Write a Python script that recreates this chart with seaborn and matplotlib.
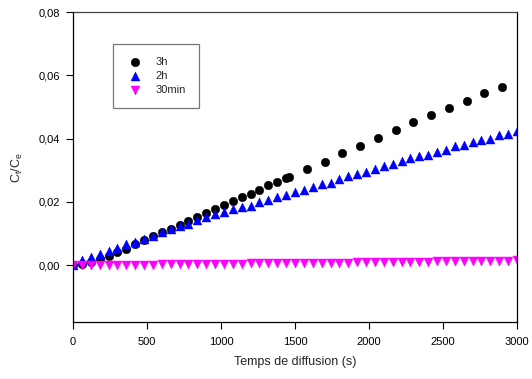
import numpy as np
import pandas as pd
import matplotlib
matplotlib.use("Agg")
import matplotlib.pyplot as plt
import seaborn as sns
from matplotlib.ticker import FuncFormatter

# 数据
t_3h = [0, 60, 120, 180, 240, 300, 360, 420, 480, 540, 600, 660, 720, 780, 840,
        900, 960, 1020, 1080, 1140, 1200, 1260, 1320, 1380, 1440, 1460,
        1580, 1700, 1820, 1940, 2060, 2180, 2300, 2420, 2540, 2660, 2780, 2900]
c_3h = [0.0, 0.0002, 0.0010, 0.0019, 0.0029, 0.0041, 0.0050, 0.0066, 0.0080, 0.0092,
        0.0104, 0.0114, 0.0126, 0.0139, 0.0153, 0.0166, 0.0177, 0.0190, 0.0201, 0.0215,
        0.0225, 0.0238, 0.0252, 0.0262, 0.0275, 0.0278,
        0.0303, 0.0326, 0.0353, 0.0376, 0.0403, 0.0428, 0.0451, 0.0473, 0.0496, 0.0518,
        0.0544, 0.0564]

t_2h = [0, 60, 120, 180, 240, 300, 360, 420, 480, 540, 600, 660, 720, 780, 840,
        900, 960, 1020, 1080, 1140, 1200, 1260, 1320, 1380, 1440, 1500, 1560, 1620,
        1680, 1740, 1800, 1860, 1920, 1980, 2040, 2100, 2160, 2220, 2280, 2340, 2400,
        2460, 2520, 2580, 2640, 2700, 2760, 2820, 2880, 2940, 3000]
c_2h = [0.0, 0.0016, 0.0026, 0.0035, 0.0044, 0.0055, 0.0066, 0.0074, 0.0083, 0.0093,
        0.0104, 0.0113, 0.0123, 0.0131, 0.0143, 0.0152, 0.0161, 0.0167, 0.0177, 0.0184,
        0.0188, 0.0198, 0.0206, 0.0215, 0.0222, 0.0231, 0.0238, 0.0248, 0.0255, 0.0261,
        0.0272, 0.0280, 0.0287, 0.0294, 0.0305, 0.0312, 0.0318, 0.0330, 0.0337, 0.0345,
        0.0349, 0.0359, 0.0364, 0.0376, 0.0380, 0.0389, 0.0396, 0.0400, 0.0410, 0.0413,
        0.0424]

t_30 = t_2h
c_30 = [0.0, 0.0, 0.0, 0.0, 0.0, 0.0, 0.0001, 0.0001, 0.0001, 0.0001,
        0.0002, 0.0002, 0.0002, 0.0003, 0.0003, 0.0003, 0.0003, 0.0004, 0.0004, 0.0004,
        0.0005, 0.0005, 0.0005, 0.0006, 0.0006, 0.0006, 0.0007, 0.0007, 0.0007, 0.0008,
        0.0008, 0.0008, 0.0009, 0.0009, 0.0009, 0.0010, 0.0010, 0.0010, 0.0011, 0.0011,
        0.0011, 0.0012, 0.0012, 0.0012, 0.0013, 0.0013, 0.0013, 0.0014, 0.0014, 0.0014,
        0.0015]

sns.set_style("ticks")
plt.rcParams['font.family'] = ['Liberation Sans', 'DejaVu Sans']
plt.rcParams['mathtext.default'] = 'regular'

fig = plt.figure(figsize=(5.32, 3.79), dpi=100)
ax = fig.add_axes([0.1372, 0.1504, 0.8346, 0.8179])

sns.scatterplot(x=t_3h, y=c_3h, ax=ax, color="black", marker="o", s=38,
                edgecolor="black", linewidth=0.3, label="3h")
sns.scatterplot(x=t_2h, y=c_2h, ax=ax, color="blue", marker="^", s=42,
                edgecolor="blue", linewidth=0.3, label="2h")
sns.scatterplot(x=t_30, y=c_30, ax=ax, color="magenta", marker="v", s=42,
                edgecolor="magenta", linewidth=0.3, label="30min")

ax.set_xlim(0, 3000)
ax.set_ylim(-0.018, 0.08)
ax.set_xticks([0, 500, 1000, 1500, 2000, 2500, 3000])
ax.set_yticks([0.0, 0.02, 0.04, 0.06, 0.08])
ax.yaxis.set_major_formatter(FuncFormatter(lambda v, p: f"{v:.2f}".replace(".", ",")))
ax.tick_params(direction="out", length=5, width=0.8, labelsize=8, colors="black")
ax.tick_params(axis="x", pad=6)
ax.tick_params(axis="y", pad=4)

for s in ax.spines.values():
    s.set_visible(True)
    s.set_linewidth(0.9)
    s.set_color("black")
ax.spines["top"].set_color("#444444")

ax.set_xlabel("Temps de diffusion (s)", fontsize=9, labelpad=6)
ax.set_ylabel("$C_t/C_e$", fontsize=9, labelpad=10)

leg = ax.legend(loc="upper left", bbox_to_anchor=(0.09, 0.897), fontsize=8,
                frameon=True, fancybox=False, edgecolor="#555555",
                borderpad=1.2, handletextpad=1.0, labelspacing=0.35,
                handlelength=1.6, borderaxespad=0)
leg.get_frame().set_linewidth(0.9)

fig.savefig("out.png", dpi=100)
